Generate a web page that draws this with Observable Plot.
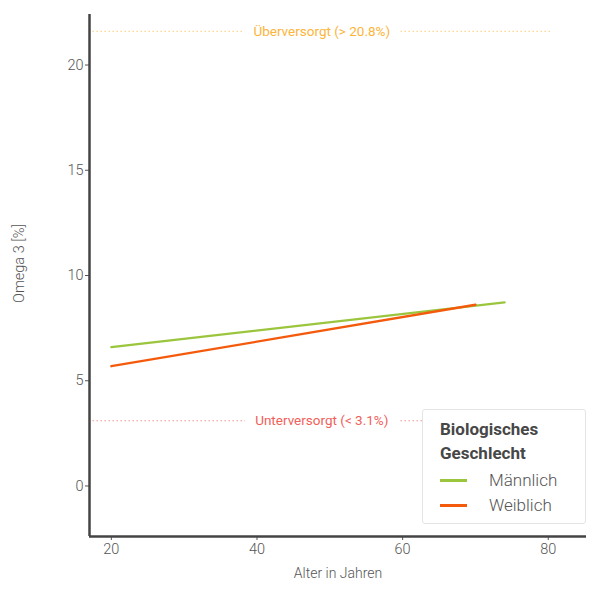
<!DOCTYPE html>
<html><head><meta charset="utf-8">
<script src="https://cdn.jsdelivr.net/npm/d3@7"></script>
<script src="https://cdn.jsdelivr.net/npm/@observablehq/plot@0.6"></script>
<style>
body{margin:0;background:#fff;font-family:Roboto,sans-serif}
#wrap{position:relative;width:600px;height:600px}
#wrap svg text{font-weight:300}
#wrap svg .thr text{font-weight:400}
#legend{position:absolute;left:422px;top:409px;width:164px;height:115px;box-sizing:border-box;border:1px solid #e4e4e4;border-radius:3px;background:#fff;padding:7px 0 0 17px;color:#555}
#legend .t{font-weight:bold;font-size:17px;line-height:24px;color:#474747;margin-bottom:3px}
#legend .i{font-size:17px;line-height:25px;display:flex;align-items:center;font-weight:300}
#legend .sw{width:27px;height:2.5px;margin-right:22px}
</style></head>
<body><div id="wrap"></div>
<script>
const sexes = ["Männlich", "Weiblich"];
const ageStart = [20, 20];
const ageEnd = [74, 70];
const omegaStart = [6.6, 5.69];
const omegaEnd = [8.72, 8.61];
const sexColors = ["#9bc53d", "#f45a0c"];

const thresholdLabels = ["Überversorgt (> 20.8%)", "Unterversorgt (< 3.1%)"];
const thresholdLevels = [21.6, 3.1];
const thresholdColors = ["#fdb43a", "#f0605a"];
const ruleAgeRange = [17.5, 80.3];

const xDomain = [17, 85.25];
const yDomain = [-2.4, 22.4];
const xTicks = [20, 40, 60, 80];
const yTicks = [0, 5, 10, 15, 20];

const lineRows = sexes.flatMap((s, i) => [
  {sex: s, age: ageStart[i], omega: omegaStart[i]},
  {sex: s, age: ageEnd[i], omega: omegaEnd[i]}
]);
const thresholds = thresholdLabels.map((l, i) => ({
  label: l, value: thresholdLevels[i], color: thresholdColors[i],
  x1: ruleAgeRange[0], x2: ruleAgeRange[1], xm: (ruleAgeRange[0] + ruleAgeRange[1]) / 2
}));

const chart = Plot.plot({
  width: 600, height: 600,
  marginLeft: 89, marginRight: 14, marginTop: 14, marginBottom: 64,
  style: {fontFamily: "Roboto, sans-serif", background: "#fff"},
  x: {domain: xDomain, ticks: xTicks, label: null},
  y: {domain: yDomain, ticks: yTicks, label: null},
  color: {domain: sexes, range: sexColors},
  marks: [
    Plot.ruleY(thresholds, {y: "value", x1: "x1", x2: "x2", stroke: d => d.color, strokeDasharray: "1,3", strokeWidth: 1}),
    Plot.text(thresholds, {x: "xm", y: "value", text: "label", fill: d => d.color, stroke: "white", strokeWidth: 22, fontSize: 13.5, className: "thr"}),
    Plot.line(lineRows, {x: "age", y: "omega", z: "sex", stroke: "sex", strokeWidth: 2.3}),
    Plot.axisX({ticks: xTicks, tickSize: 4, tickPadding: 3, fontSize: 14.5, color: "#555", stroke: "#555", label: null}),
    Plot.axisY({ticks: yTicks, tickSize: 4, tickPadding: 2, fontSize: 14.5, color: "#555", stroke: "#555", label: null}),
    Plot.ruleX([xDomain[0]], {stroke: "#444", strokeWidth: 2.5}),
    Plot.ruleY([yDomain[0]], {stroke: "#444", strokeWidth: 2.5}),
    Plot.text(["Alter in Jahren"], {frameAnchor: "bottom", dy: 41, fontSize: 14, fill: "#555"}),
    Plot.text(["Omega 3 [%]"], {frameAnchor: "left", textAnchor: "middle", dx: -70, dy: -12, rotate: -90, fontSize: 14.5, fill: "#555"})
  ]
});
const wrap = document.getElementById("wrap");
wrap.appendChild(chart);

const legend = document.createElement("div");
legend.id = "legend";
legend.innerHTML = `<div class="t">Biologisches<br>Geschlecht</div>` +
  sexes.map((s, i) => `<div class="i"><span class="sw" style="background:${sexColors[i]}"></span>${s}</div>`).join("");
wrap.appendChild(legend);
</script>
</body></html>
